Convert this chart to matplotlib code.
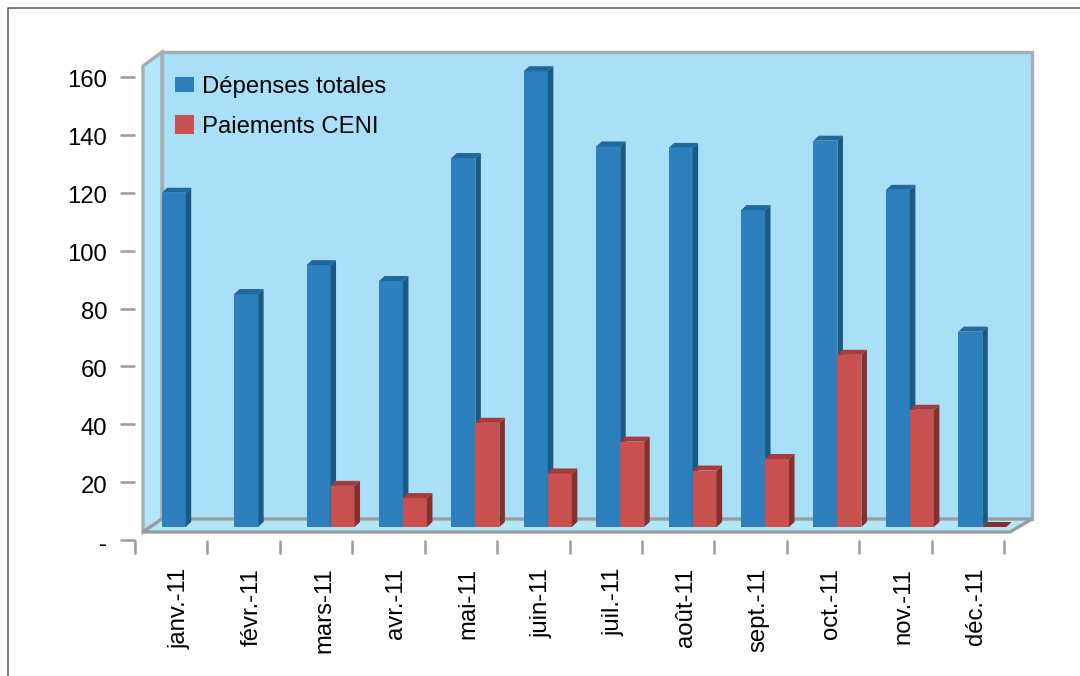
import matplotlib
matplotlib.use('Agg')
import matplotlib.pyplot as plt
from matplotlib.lines import Line2D
from matplotlib.patches import Polygon, Rectangle
from matplotlib.transforms import ScaledTranslation

plt.rcParams['font.family'] = ['Liberation Sans', 'DejaVu Sans']

# Data
months = ['janv.-11', 'févr.-11', 'mars-11', 'avr.-11', 'mai-11', 'juin-11',
          'juil.-11', 'août-11', 'sept.-11', 'oct.-11', 'nov.-11', 'déc.-11']
depenses = [120, 85, 95, 89.5, 132, 162, 136, 135.5, 114, 138, 121, 72]
paiements = [None, None, 18.7, 14.5, 40.5, 23, 34, 24, 28, 64, 45, 0]
yticks = [0, 20, 40, 60, 80, 100, 120, 140, 160]
ylabels = ['-', '20', '40', '60', '80', '100', '120', '140', '160']

W, H = 1080, 676
fig = plt.figure(figsize=(W / 100, H / 100), dpi=100)
# axes box: x 135..1004 px, y 0 at 540 px, 160 at 77 px
ax = fig.add_axes([135 / W, 1 - 540 / H, 869 / W, 463 / H], zorder=2)
ax.set_xlim(-0.5, 11.5)
ax.set_ylim(0, 160)
ax.patch.set_alpha(0)
for s in ax.spines.values():
    s.set_visible(False)

px_x = 12 / 869      # data per pixel in x
px_y = 160 / 463     # data per pixel in y


def Y(px):
    return (540 - px) * px_y


def xd(px):
    return -0.5 + (px - 135) * px_x


# outer frame, only top and left are there
fig.add_artist(Line2D([8 / W, 8 / W, 1], [0, 1 - 8 / H, 1 - 8 / H], transform=fig.transFigure,
                      color='#555555', lw=1.1))

# 3d box: side wall, back wall, floor
wall = '#A9E0F7'
edge = '#A4AEB3'
ax.add_patch(Polygon([(xd(143), Y(66)), (xd(162), Y(52)), (xd(162), Y(519)), (xd(143), Y(532))],
                     fc='#B4E5F9', ec=edge, lw=2.4, clip_on=False, zorder=1))
ax.add_patch(Polygon([(xd(162), Y(52)), (xd(1032), Y(52)), (xd(1032), Y(519)), (xd(162), Y(519))],
                     fc=wall, ec=edge, lw=2.4, clip_on=False, zorder=1))
ax.add_patch(Polygon([(xd(143), Y(532)), (xd(162), Y(519)), (xd(1032), Y(519)), (xd(1010), Y(532))],
                     fc='#B5E6F8', ec='#979FA3', lw=2.4, clip_on=False, zorder=1.5))

# bars
base = Y(527)
bw = 24 * px_x
dx = 5.5 * px_x
dy = 5 * px_y


def bar3d(x, top, front, side, cap):
    top = max(top, base)
    ax.bar(x, top - base, bw, bottom=base, align='edge', color=front, zorder=3, clip_on=False)
    ax.add_patch(Polygon([(x + bw, base), (x + bw + dx, base + dy), (x + bw + dx, top + dy), (x + bw, top)],
                         fc=side, ec='none', zorder=3, clip_on=False))
    ax.add_patch(Polygon([(x, top), (x + dx, top + dy), (x + bw + dx, top + dy), (x + bw, top)],
                         fc=cap, ec='none', zorder=3, clip_on=False))


for i, v in enumerate(depenses):
    bar3d(i - 9.5 * px_x, v, '#2E7FBE', '#1A5A85', '#22689C')
for i, v in enumerate(paiements):
    if v is not None:
        bar3d(i + 14.5 * px_x, v, '#C8504E', '#84302E', '#A33C3A' if v else '#84302E')

# axis ticks
ax.set_yticks(yticks, ylabels, fontsize=17.2)
ax.tick_params(axis='y', length=11, width=1.8, color='#9A9A9A', pad=9, labelcolor='black')
ax.set_xticks(range(12), months, rotation=90, fontsize=17.2)
ax.set_xticks([i - 0.5 for i in range(13)], minor=True)
ax.tick_params(axis='x', which='major', length=0, pad=20, labelcolor='black')
ax.tick_params(axis='x', which='minor', length=10, width=1.8, color='#9A9A9A')
for lab in ax.get_xticklabels():
    lab.set_transform(lab.get_transform() + ScaledTranslation(8 / 100, 0, fig.dpi_scale_trans))
for lab in ax.get_yticklabels():
    lab.set_transform(lab.get_transform() + ScaledTranslation(0, -2 / 100, fig.dpi_scale_trans))

# legend
for col, name, box_bottom, baseline in [('#2E7FBE', 'Dépenses totales', 92, 93),
                                        ('#C8504E', 'Paiements CENI', 134, 133)]:
    ax.add_patch(Rectangle((xd(175), Y(box_bottom)), 19 * px_x, 19 * px_y, fc=col, ec='none', zorder=4))
    ax.text(xd(202), Y(baseline), name, fontsize=17.2, va='baseline', ha='left', zorder=4)

fig.savefig('out.png', dpi=100)
